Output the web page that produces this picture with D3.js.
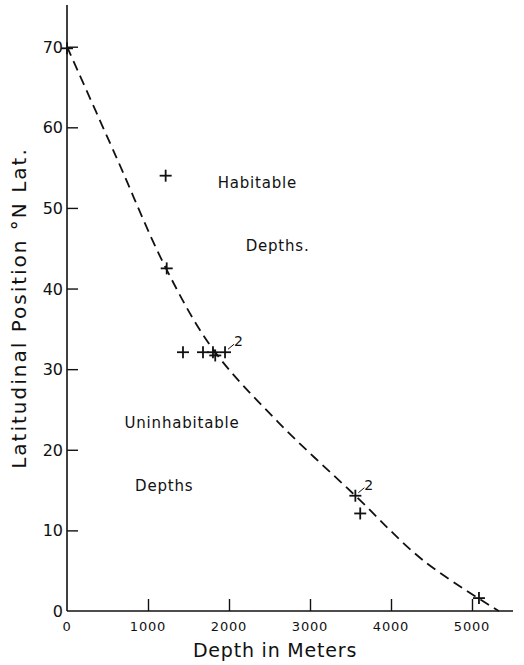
<!DOCTYPE html>
<html><head><meta charset="utf-8">
<script src="https://cdn.jsdelivr.net/npm/d3@7"></script>
<style>body{margin:0;background:#fff}svg{display:block}text{font-family:"DejaVu Sans",sans-serif;fill:#111}</style>
</head><body><div id="chart"></div>
<script>
const xTicks = [0, 1000, 2000, 3000, 4000, 5000];
const yTicks = [0, 10, 20, 30, 40, 50, 60, 70];
const yTickLabels = ["0", "10", "20", "30", "40", "50", "60", "70"];
// observations: depth (m), latitude (°N)
const obsDepth = [0, 1218, 1231, 1432, 1679, 1802, 1830, 1951, 3560, 3620, 5086];
const obsLat =   [69.8, 54.0, 42.5, 32.1, 32.1, 32.1, 31.7, 32.1, 14.3, 12.1, 1.6];
// dashed boundary curve
const curveDepth = [0, 600, 1222, 1800, 2600, 3560, 4395, 5330];
const curveLat =   [70, 56.5, 42.5, 32.5, 23.5, 14.3, 6.3, 0];
const annotations = [
  {text: "Habitable", d: 2350, l: 52.5},
  {text: "Depths.", d: 2600, l: 44.6},
  {text: "Uninhabitable", d: 1420, l: 22.7},
  {text: "Depths", d: 1200, l: 14.9}
];

const W = 524, H = 665;
const svg = d3.select("#chart").append("svg").attr("width", W).attr("height", H);
const x = d3.scaleLinear().domain([0, 5000]).range([67, 472]);
const y = d3.scaleLinear().domain([0, 70]).range([611, 46.7]);

// axes lines
svg.append("line").attr("x1", x(0)).attr("x2", x(0)).attr("y1", 5).attr("y2", y(0)).attr("stroke", "#111").attr("stroke-width", 1.6);
svg.append("line").attr("x1", x(0)).attr("x2", 513).attr("y1", y(0)).attr("y2", y(0)).attr("stroke", "#111").attr("stroke-width", 1.6);

// x ticks (inward)
const xAxis = d3.axisTop(x).tickValues(xTicks.slice(1)).tickSize(12).tickFormat("");
svg.append("g").attr("transform", `translate(0,${y(0)})`).call(xAxis)
  .call(g => g.select(".domain").remove())
  .call(g => g.selectAll("line").attr("stroke", "#111").attr("stroke-width", 1.4));
svg.selectAll(".xlab").data(xTicks).join("text")
  .attr("x", d => x(d)).attr("y", y(0) + 20).attr("text-anchor", "middle")
  .attr("font-size", 13).attr("letter-spacing", 0.8).text(d => d);

// y ticks (inward)
const yAxis = d3.axisRight(y).tickValues(yTicks.slice(1)).tickSize(11).tickFormat("");
svg.append("g").attr("transform", `translate(${x(0)},0)`).call(yAxis)
  .call(g => g.select(".domain").remove())
  .call(g => g.selectAll("line").attr("stroke", "#111").attr("stroke-width", 1.4));
svg.selectAll(".ylab").data(yTicks).join("text")
  .attr("x", x(0) - 4).attr("y", d => y(d) + 6).attr("text-anchor", "end")
  .attr("font-size", 16).text((d, i) => yTickLabels[i]);

// axis titles
svg.append("text").attr("x", 275).attr("y", 657).attr("text-anchor", "middle").attr("font-size", 19).attr("letter-spacing", 0.8).text("Depth in Meters");
svg.append("text").attr("transform", `translate(26,${308}) rotate(-90)`).attr("text-anchor", "middle").attr("font-size", 20).attr("letter-spacing", 2).text("Latitudinal Position °N Lat.");

// dashed curve
const line = d3.line().x(d => x(d[0])).y(d => y(d[1])).curve(d3.curveCatmullRom.alpha(0.5));
svg.append("path").datum(curveDepth.map((d, i) => [d, curveLat[i]]))
  .attr("d", line).attr("fill", "none").attr("stroke", "#111").attr("stroke-width", 1.8).attr("stroke-dasharray", "10,6");

// crosses
const cs = 6;
const pts = svg.selectAll(".pt").data(obsDepth.map((d, i) => [d, obsLat[i]])).join("g")
  .attr("transform", d => `translate(${x(d[0])},${y(d[1])})`);
pts.append("line").attr("x1", -cs).attr("x2", cs).attr("stroke", "#111").attr("stroke-width", 1.8);
pts.append("line").attr("y1", -cs).attr("y2", cs).attr("stroke", "#111").attr("stroke-width", 1.8);

// multiplicity labels
const multi = [{i: 7, text: "2"}, {i: 8, text: "2"}];
multi.forEach(m => {
  const px = x(obsDepth[m.i]), py = y(obsLat[m.i]);
  svg.append("line").attr("x1", px + 3).attr("y1", py - 3).attr("x2", px + 9).attr("y2", py - 8).attr("stroke", "#111").attr("stroke-width", 1);
  svg.append("text").attr("x", px + 9).attr("y", py - 6).attr("font-size", 14).text(m.text);
});

// region labels
svg.selectAll(".ann").data(annotations).join("text")
  .attr("x", d => x(d.d)).attr("y", d => y(d.l)).attr("text-anchor", "middle")
  .attr("font-size", 15).attr("letter-spacing", 0.8).text(d => d.text);
</script></body></html>
